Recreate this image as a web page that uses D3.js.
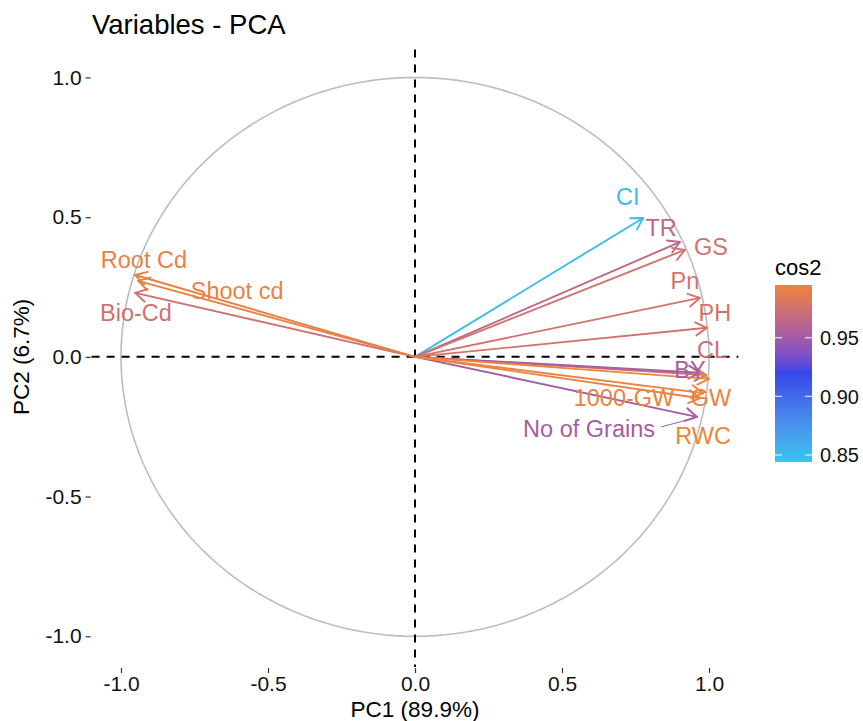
<!DOCTYPE html>
<html>
<head>
<meta charset="utf-8">
<script src="https://d3js.org/d3.v7.min.js"></script>
<style>
  body { margin: 0; background: #fff; }
  text { font-family: "Liberation Sans", Arial, sans-serif; }
</style>
</head>
<body>
<div id="chart"></div>
<script>
// variables, their coordinates on PC1/PC2 and their cos2
var variables = ["CI", "TR", "GS", "Pn", "PH", "CL", "BY", "1000-GW", "GW", "No of Grains", "RWC", "Root Cd", "Shoot cd", "Bio-Cd"];
var pc1 = [0.776, 0.901, 0.918, 0.969, 0.993, 0.990, 0.969, 0.980, 0.970, 0.959, 1.000, -0.952, -0.942, -0.952];
var pc2 = [0.497, 0.411, 0.383, 0.211, 0.104, -0.065, -0.057, -0.130, -0.148, -0.215, -0.079, 0.293, 0.272, 0.229];
var cos2 = [0.850, 0.964, 0.975, 0.976, 0.976, 0.972, 0.953, 0.992, 0.992, 0.951, 0.995, 0.990, 0.992, 0.974];

// where the repelled labels ended up (data units)
var labelX = [0.724, 0.837, 1.007, 0.918, 1.020, 1.010, 0.935, 0.711, 1.007, 0.592, 0.980, -0.922, -0.605, -0.949];
var labelY = [0.572, 0.462, 0.394, 0.272, 0.157, 0.026, -0.046, -0.147, -0.147, -0.258, -0.283, 0.347, 0.236, 0.157];

var axisTicks = [-1.0, -0.5, 0.0, 0.5, 1.0];
var legendTicks = [0.85, 0.90, 0.95];
var colorDomain = [0.844, 0.92, 0.995];
var colorRange = ["#35c6ee", "#3446ea", "#ee8537"];

var width = 863, height = 721;

var svg = d3.select("#chart").append("svg")
    .attr("width", width)
    .attr("height", height);

var x = d3.scaleLinear().domain([-1.1, 1.1]).range([91.6, 738.4]);
var y = d3.scaleLinear().domain([-1.11, 1.1]).range([667, 49.5]);

var color = d3.scaleLinear().domain(colorDomain).range(colorRange).interpolate(d3.interpolateLab);

// title
svg.append("text")
    .attr("x", 92).attr("y", 34)
    .attr("font-size", 27.5)
    .text("Variables - PCA");

// correlation circle
var angles = d3.range(0, 361, 2);
svg.append("path")
    .datum(angles)
    .attr("fill", "none")
    .attr("stroke", "#bdbdbd")
    .attr("stroke-width", 1.6)
    .attr("d", d3.line()
        .x(function (a) { return x(Math.cos(a * Math.PI / 180)); })
        .y(function (a) { return y(Math.sin(a * Math.PI / 180)); }));

// dashed zero lines
svg.append("line")
    .attr("x1", x(-1.1)).attr("x2", x(1.1))
    .attr("y1", y(0)).attr("y2", y(0))
    .attr("stroke", "#000").attr("stroke-width", 2)
    .attr("stroke-dasharray", "8,7");
svg.append("line")
    .attr("x1", x(0)).attr("x2", x(0))
    .attr("y1", y(1.1)).attr("y2", y(-1.11))
    .attr("stroke", "#000").attr("stroke-width", 2)
    .attr("stroke-dasharray", "8,7");

// axes
var xAxis = d3.axisBottom(x).tickValues(axisTicks).tickFormat(d3.format(".1f")).tickSize(5).tickPadding(3);
var yAxis = d3.axisLeft(y).tickValues(axisTicks).tickFormat(d3.format(".1f")).tickSize(5).tickPadding(4);

var gx = svg.append("g").attr("transform", "translate(0," + (y(-1.11) + 1) + ")").call(xAxis);
var gy = svg.append("g").attr("transform", "translate(" + (x(-1.1) - 1) + ",0)").call(yAxis);
[gx, gy].forEach(function (g) {
    g.select(".domain").remove();
    g.selectAll(".tick line").attr("stroke", "#333").attr("stroke-width", 1.2);
    g.selectAll(".tick text").attr("fill", "#111").attr("font-size", 21)
        .attr("font-family", "Liberation Sans, Arial, sans-serif")
        .text(function (d) { return d3.format(".1f")(d).replace("−", "-"); });
});

svg.append("text")
    .attr("x", x(0)).attr("y", 717)
    .attr("text-anchor", "middle")
    .attr("font-size", 22.5)
    .text("PC1 (89.9%)");
svg.append("text")
    .attr("transform", "translate(29," + y(0) + ") rotate(-90)")
    .attr("text-anchor", "middle")
    .attr("font-size", 22.5)
    .text("PC2 (6.7%)");

// arrows
var idx = d3.range(variables.length);
var drawOrder = [0, 1, 2, 3, 4, 9, 5, 6, 7, 8, 10, 13, 12, 11];
var arrows = svg.append("g").attr("fill", "none").attr("stroke-width", 1.9).attr("stroke-linecap", "round");
drawOrder.forEach(function (i) {
    var x0 = x(0), y0 = y(0), x1 = x(pc1[i]), y1 = y(pc2[i]);
    var ang = Math.atan2(y1 - y0, x1 - x0);
    var len = 13, spread = Math.PI / 6;
    var head = [
        [x1 - len * Math.cos(ang - spread), y1 - len * Math.sin(ang - spread)],
        [x1, y1],
        [x1 - len * Math.cos(ang + spread), y1 - len * Math.sin(ang + spread)]
    ];
    var c = color(cos2[i]);
    arrows.append("line")
        .attr("x1", x0).attr("y1", y0).attr("x2", x1).attr("y2", y1)
        .attr("stroke", c);
    arrows.append("path")
        .attr("d", d3.line()(head))
        .attr("stroke", c)
        .attr("stroke-linejoin", "round");
});

// repel segment for "No of Grains"
var ng = variables.indexOf("No of Grains");
svg.append("line")
    .attr("x1", x(labelX[ng]) + 72).attr("y1", y(labelY[ng]) - 2)
    .attr("x2", x(pc1[ng]) - 2).attr("y2", y(pc2[ng]) + 1)
    .attr("stroke", color(cos2[ng])).attr("stroke-width", 1);

// labels
svg.append("g").selectAll("text")
    .data(idx)
    .join("text")
    .attr("x", function (i) { return x(labelX[i]); })
    .attr("y", function (i) { return y(labelY[i]); })
    .attr("text-anchor", "middle")
    .attr("dy", "0.36em")
    .attr("font-size", 23.5)
    .attr("fill", function (i) { return color(cos2[i]); })
    .text(function (i) { return variables[i]; });

// legend
var legX = 775, legTop = 285, legBottom = 462, legW = 37;
var ly = d3.scaleLinear().domain([colorDomain[0], colorDomain[2]]).range([legBottom, legTop]);
var grad = svg.append("defs").append("linearGradient")
    .attr("id", "cosgrad")
    .attr("x1", 0).attr("y1", 1).attr("x2", 0).attr("y2", 0);
d3.range(0, 1.0001, 0.05).forEach(function (t) {
    var v = colorDomain[0] + t * (colorDomain[2] - colorDomain[0]);
    grad.append("stop").attr("offset", t).attr("stop-color", color(v));
});
svg.append("rect")
    .attr("x", legX).attr("y", legTop)
    .attr("width", legW).attr("height", legBottom - legTop)
    .attr("fill", "url(#cosgrad)");
svg.append("text")
    .attr("x", legX).attr("y", 275)
    .attr("font-size", 22)
    .text("cos2");
var lt = svg.append("g");
legendTicks.forEach(function (v) {
    lt.append("line").attr("x1", legX).attr("x2", legX + 7).attr("y1", ly(v)).attr("y2", ly(v))
        .attr("stroke", "#fff").attr("stroke-opacity", 0.8).attr("stroke-width", 1.2);
    lt.append("line").attr("x1", legX + legW - 7).attr("x2", legX + legW).attr("y1", ly(v)).attr("y2", ly(v))
        .attr("stroke", "#fff").attr("stroke-opacity", 0.8).attr("stroke-width", 1.2);
    lt.append("text")
        .attr("x", legX + legW + 8).attr("y", ly(v))
        .attr("dy", "0.36em")
        .attr("font-size", 20)
        .attr("fill", "#111")
        .text(d3.format(".2f")(v));
});
</script>
</body>
</html>
